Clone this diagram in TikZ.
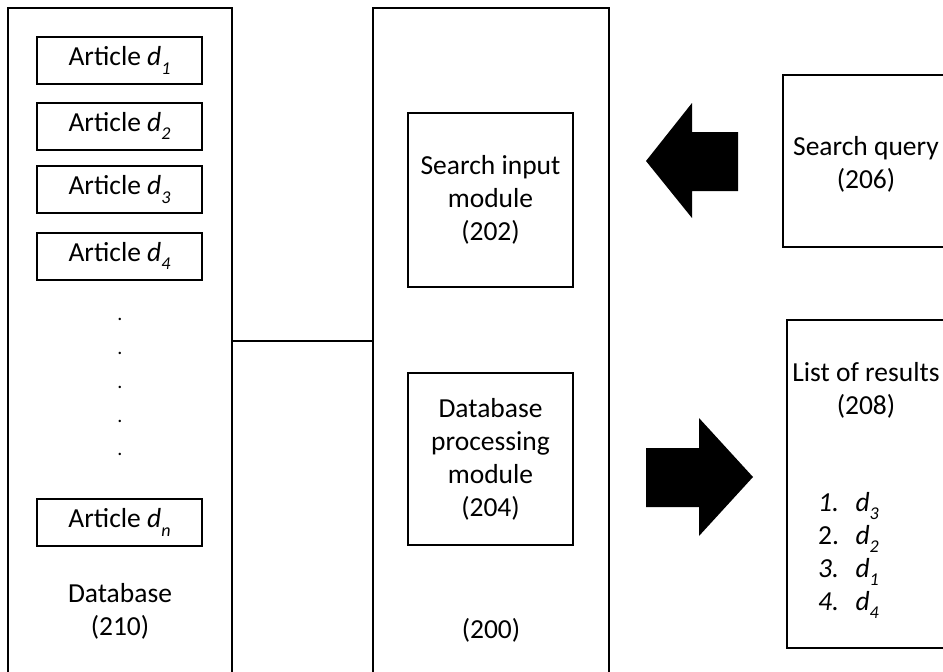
\documentclass[tikz,border=0pt]{standalone}
\usepackage{fontspec}
\setmainfont{Carlito}
\newcommand\sbx[1]{\raisebox{-0.3em}{\fontsize{18}{18}\selectfont\textit{#1}}}
\newcommand\dsub[1]{\textit{d}\sbx{#1}}
\begin{document}
\begin{tikzpicture}[x=1pt,y=-1pt,
  every node/.style={font=\fontsize{27.5}{33}\selectfont, inner sep=0pt},
  box/.style={draw, line width=2pt, rectangle, align=center},
  artbox/.style={box, minimum width=165pt, minimum height=47pt},
  modbox/.style={box, minimum width=165pt},
  lbl/.style={align=center},
  bigarrow/.style={fill=black, draw=none}]
\useasboundingbox (0,0) rectangle (943,672);
% big containers
\node[box, minimum width=224pt, minimum height=682pt] (db) at (120,349) {};
\node[box, minimum width=236pt, minimum height=682pt] (sys) at (491,349) {};
% articles
\node[artbox] (a1) at (119.5,60.5) {Article \dsub{1}};
\node[artbox] (a2) at (119.5,126) {Article \dsub{2}};
\node[artbox] (a3) at (119.5,189.5) {Article \dsub{3}};
\node[artbox] (a4) at (119.5,256) {Article \dsub{4}};
\node[artbox] (an) at (119.5,522.5) {Article \dsub{n}};
\foreach \yy [count=\i] in {319,353,387,421,454}
  \node[lbl, font=\fontsize{20}{20}\selectfont] (dot\i) at (120,\yy) {.};
\node[lbl] (dblbl) at (120,611) {Database\\(210)};
% modules
\node[modbox, minimum height=174pt] (sim) at (490.5,200) {Search input\\module\\(202)};
\node[modbox, minimum height=172pt] (dpm) at (490.5,459) {Database\\processing\\module\\(204)};
\node[lbl] (syslbl) at (491,630) {(200)};
% connector
\coordinate (cy) at (0,341);
\draw[line width=2pt] (db.east |- cy) -- (sys.west |- cy);
% right boxes
\node[box, minimum width=177pt, minimum height=172pt] (sq) at (871.5,161) {};
\node[lbl] (sqlbl) at (866,164) {Search query\\(206)};
\node[box, minimum width=173pt, minimum height=328pt] (lr) at (873.5,484) {};
\node[lbl] (lrlbl) at (866,390) {List of results\\(208)};
\node[lbl, anchor=north west, align=left] (items) at (818,492)
  {\textit{1.}\hspace{0.6em}\textit{d}\sbx{3}\\
   2.\hspace{0.6em}\textit{d}\sbx{2}\\
   \textit{3.}\hspace{0.6em}\textit{d}\sbx{1}\\
   \textit{4.}\hspace{0.6em}\textit{d}\sbx{4}};
% arrows
\fill[bigarrow] (738,132) -- (692,132) -- (692,103) -- (646,161) -- (692,218) -- (692,191) -- (738,191) -- cycle;
\fill[bigarrow] (646,448) -- (699,448) -- (699,418) -- (753,477) -- (699,536) -- (699,507) -- (646,507) -- cycle;
\end{tikzpicture}
\end{document}
